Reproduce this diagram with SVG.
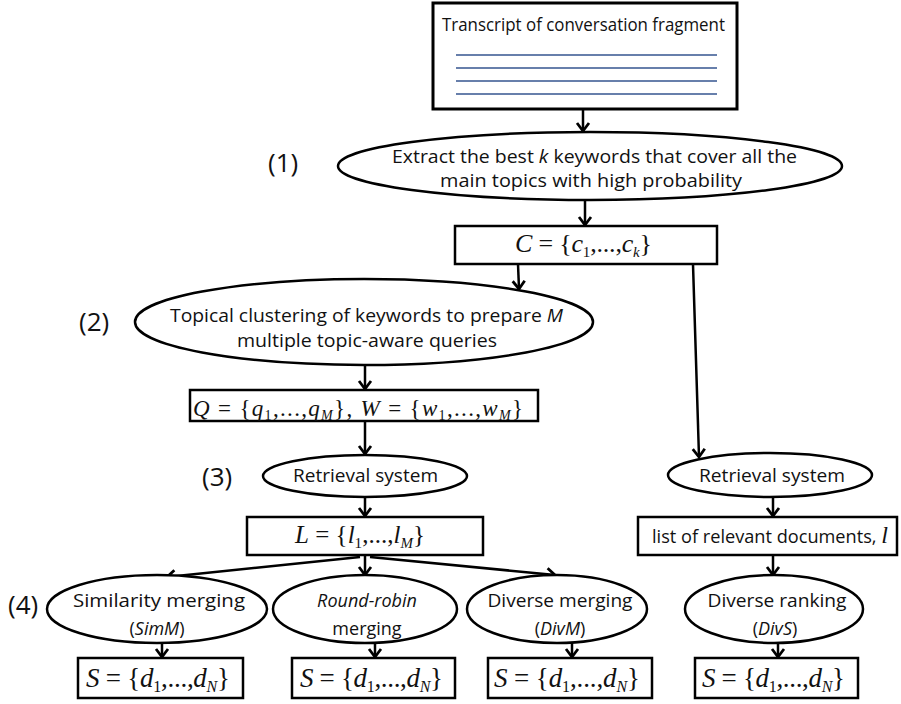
<svg xmlns="http://www.w3.org/2000/svg" width="901" height="704" viewBox="0 0 901 704">
<defs>
<style>
.box{fill:#fff;stroke:#000;stroke-width:2.5}
.ell{fill:#fff;stroke:#000;stroke-width:2.5}
.t{font-family:"Open Sans","Liberation Sans",sans-serif;font-size:18px;fill:#111}
.lab{font-family:"Open Sans","Liberation Sans",sans-serif;font-size:26px;fill:#111}
.m{font-family:"Liberation Serif","Times New Roman",serif;fill:#111}
.i{font-style:italic}
.c{text-anchor:middle}
.ln{stroke:#34558f;stroke-width:1.5}
.arr{stroke:#000;stroke-width:2.5;fill:none;marker-end:url(#ah)}
</style>
<marker id="ah" markerUnits="userSpaceOnUse" markerWidth="20" markerHeight="20" refX="0" refY="0" viewBox="-12 -10 14 20" orient="auto">
<path d="M-8,-6 L0,0 L-8,6" fill="none" stroke="#000" stroke-width="2.8"/>
</marker>
</defs>
<rect width="901" height="704" fill="#fff"/>

<g id="connectors">
<line class="arr" x1="583" y1="110" x2="583" y2="131"/>
<line class="arr" x1="585" y1="200" x2="585" y2="225"/>
<line class="arr" x1="518" y1="264" x2="519" y2="289"/>
<line class="arr" x1="365" y1="365" x2="365" y2="389"/>
<line class="arr" x1="365" y1="420" x2="365" y2="454"/>
<line class="arr" x1="365" y1="497" x2="365" y2="516"/>
<line class="arr" x1="360" y1="557" x2="167" y2="577"/>
<line class="arr" x1="365" y1="556" x2="365" y2="575"/>
<line class="arr" x1="370" y1="557" x2="555" y2="575"/>
<line class="arr" x1="162" y1="643" x2="162" y2="657"/>
<line class="arr" x1="375" y1="643" x2="375" y2="657"/>
<line class="arr" x1="572" y1="643" x2="572" y2="657"/>
<line class="arr" x1="693" y1="264" x2="699" y2="457"/>
<line class="arr" x1="773" y1="497" x2="773" y2="516"/>
<line class="arr" x1="773" y1="555" x2="773" y2="575"/>
<line class="arr" x1="778" y1="643" x2="778" y2="657"/>
</g>

<g id="transcript">
<rect x="433" y="3" width="304" height="106" fill="#fff" stroke="#000" stroke-width="3"/>
<text class="t" x="442" y="31" textLength="283" lengthAdjust="spacingAndGlyphs">Transcript of conversation fragment</text>
<line class="ln" x1="456" y1="55" x2="717" y2="55"/>
<line class="ln" x1="456" y1="68" x2="717" y2="68"/>
<line class="ln" x1="456" y1="81" x2="717" y2="81"/>
<line class="ln" x1="456" y1="94" x2="717" y2="94"/>
</g>

<g id="label1"><text class="lab" x="268" y="172">(1)</text></g>
<g id="extract">
<ellipse class="ell" cx="590" cy="166" rx="252" ry="34"/>
<text class="t" x="392" y="163" textLength="405" lengthAdjust="spacingAndGlyphs">Extract the best <tspan class="i">k</tspan> keywords that cover all the</text>
<text class="t" x="440" y="187" textLength="302" lengthAdjust="spacingAndGlyphs">main topics with high probability</text>
</g>

<g id="cset">
<rect class="box" x="455" y="226" width="262" height="38"/>
<text class="m" x="515" y="252" font-size="26" textLength="137" lengthAdjust="spacing"><tspan class="i">C</tspan> = {<tspan class="i">c</tspan><tspan font-size="15" dy="5">1</tspan><tspan dy="-5">,...,</tspan><tspan class="i">c</tspan><tspan class="i" font-size="15" dy="5">k</tspan><tspan dy="-5">}</tspan></text>
</g>

<g id="label2"><text class="lab" x="79" y="331">(2)</text></g>
<g id="cluster">
<ellipse class="ell" cx="364" cy="322" rx="229" ry="43"/>
<text class="t" x="170" y="322" textLength="393" lengthAdjust="spacingAndGlyphs">Topical clustering of keywords to prepare <tspan class="i">M</tspan></text>
<text class="t" x="237" y="347" textLength="260" lengthAdjust="spacingAndGlyphs">multiple topic-aware queries</text>
</g>

<g id="qset">
<rect class="box" x="190" y="390" width="348" height="31"/>
<text class="m" x="193" y="416" font-size="23" textLength="330" lengthAdjust="spacing"><tspan class="i">Q</tspan> = {<tspan class="i">q</tspan><tspan font-size="14" dy="4">1</tspan><tspan dy="-4">,...,</tspan><tspan class="i">q</tspan><tspan class="i" font-size="14" dy="4">M</tspan><tspan dy="-4">}, </tspan><tspan class="i">W</tspan> = {<tspan class="i">w</tspan><tspan font-size="14" dy="4">1</tspan><tspan dy="-4">,...,</tspan><tspan class="i">w</tspan><tspan class="i" font-size="14" dy="4">M</tspan><tspan dy="-4">}</tspan></text>
</g>

<g id="label3"><text class="lab" x="202" y="486">(3)</text></g>
<g id="retrieval1">
<ellipse class="ell" cx="365" cy="476" rx="102" ry="21"/>
<text class="t" x="293" y="482" textLength="145" lengthAdjust="spacingAndGlyphs">Retrieval system</text>
</g>

<g id="retrieval2">
<ellipse class="ell" cx="770" cy="475" rx="102" ry="22"/>
<text class="t" x="699" y="482" textLength="146" lengthAdjust="spacingAndGlyphs">Retrieval system</text>
</g>

<g id="lset">
<rect class="box" x="247" y="517" width="236" height="38"/>
<text class="m" x="295" y="543" font-size="25" textLength="130" lengthAdjust="spacing"><tspan class="i">L</tspan> = {<tspan class="i">l</tspan><tspan font-size="15" dy="5">1</tspan><tspan dy="-5">,...,</tspan><tspan class="i">l</tspan><tspan class="i" font-size="15" dy="5">M</tspan><tspan dy="-5">}</tspan></text>
</g>

<g id="listdocs">
<rect class="box" x="638" y="517" width="259" height="38"/>
<text class="t" x="652" y="543" textLength="236" lengthAdjust="spacingAndGlyphs">list of relevant documents, <tspan class="m i" font-size="24">l</tspan></text>
</g>

<g id="label4"><text class="lab" x="8" y="614">(4)</text></g>

<g id="simm">
<ellipse class="ell" cx="157" cy="609" rx="110" ry="34"/>
<text class="t c" x="159" y="607" textLength="172" lengthAdjust="spacingAndGlyphs">Similarity merging</text>
<text class="t c" x="157" y="635">(<tspan class="i">SimM</tspan>)</text>
</g>
<g id="roundrobin">
<ellipse class="ell" cx="365" cy="609" rx="92" ry="34"/>
<text class="t c i" x="367" y="607">Round-robin</text>
<text class="t c" x="367" y="635">merging</text>
</g>
<g id="divm">
<ellipse class="ell" cx="557" cy="609" rx="90" ry="34"/>
<text class="t c" x="560" y="607" textLength="145" lengthAdjust="spacingAndGlyphs">Diverse merging</text>
<text class="t c" x="560" y="635">(<tspan class="i">DivM</tspan>)</text>
</g>
<g id="divs">
<ellipse class="ell" cx="774" cy="609" rx="89" ry="34"/>
<text class="t c" x="777" y="607" textLength="139" lengthAdjust="spacingAndGlyphs">Diverse ranking</text>
<text class="t c" x="775" y="635">(<tspan class="i">DivS</tspan>)</text>
</g>

<g id="s1">
<rect class="box" x="78" y="658" width="165" height="40"/>
<text class="m" x="86" y="687" font-size="27" textLength="144" lengthAdjust="spacing"><tspan class="i">S</tspan> = {<tspan class="i">d</tspan><tspan font-size="16" dy="5">1</tspan><tspan dy="-5">,...,</tspan><tspan class="i">d</tspan><tspan class="i" font-size="16" dy="5">N</tspan><tspan dy="-5">}</tspan></text>
</g>
<g id="s2">
<rect class="box" x="292" y="658" width="163" height="40"/>
<text class="m" x="300" y="687" font-size="27" textLength="143" lengthAdjust="spacing"><tspan class="i">S</tspan> = {<tspan class="i">d</tspan><tspan font-size="16" dy="5">1</tspan><tspan dy="-5">,...,</tspan><tspan class="i">d</tspan><tspan class="i" font-size="16" dy="5">N</tspan><tspan dy="-5">}</tspan></text>
</g>
<g id="s3">
<rect class="box" x="488" y="658" width="164" height="40"/>
<text class="m" x="494" y="687" font-size="27" textLength="146" lengthAdjust="spacing"><tspan class="i">S</tspan> = {<tspan class="i">d</tspan><tspan font-size="16" dy="5">1</tspan><tspan dy="-5">,...,</tspan><tspan class="i">d</tspan><tspan class="i" font-size="16" dy="5">N</tspan><tspan dy="-5">}</tspan></text>
</g>
<g id="s4">
<rect class="box" x="695" y="658" width="163" height="40"/>
<text class="m" x="702" y="687" font-size="27" textLength="143" lengthAdjust="spacing"><tspan class="i">S</tspan> = {<tspan class="i">d</tspan><tspan font-size="16" dy="5">1</tspan><tspan dy="-5">,...,</tspan><tspan class="i">d</tspan><tspan class="i" font-size="16" dy="5">N</tspan><tspan dy="-5">}</tspan></text>
</g>
</svg>
